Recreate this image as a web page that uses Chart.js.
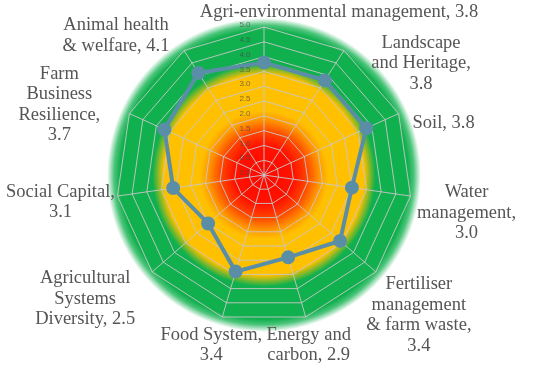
<!DOCTYPE html>
<html>
<head>
<meta charset="utf-8">
<script src="https://cdn.jsdelivr.net/npm/chart.js@4.4.1/dist/chart.umd.min.js"></script>
<style>
  body { margin:0; background:#fff; }
  #wrap { width:547px; height:377px; position:relative; }
</style>
</head>
<body>
<div id="wrap"><canvas id="radar"></canvas></div>
<script>
// categories, "\n" marks where the label wraps; a trailing "\n" puts the score on its own line
const categories = [
  'Agri-environmental management,',
  'Landscape\nand Heritage,\n',
  'Soil,',
  'Water\nmanagement,\n',
  'Fertiliser\nmanagement\n& farm waste,\n',
  'Energy and\ncarbon,',
  'Food System,\n',
  'Agricultural\nSystems\nDiversity,',
  'Social Capital,\n',
  'Farm\nBusiness\nResilience,\n',
  'Animal health\n& welfare,'
];
const scores = [3.8, 3.8, 3.8, 3.0, 3.4, 2.9, 3.4, 2.5, 3.1, 3.7, 4.1];
const scaleMin = 0, scaleMax = 5, scaleStep = 0.5;

// where each label block sits, relative to its outer spoke end (px)
const labelNudge = [[75,-15],[77,13],[45,10],[56,17],[43,43],[3,28],[-11,28],[-67,27],[-57,6],[-70,-9],[-68,-15]];

function labelLines(i){
  const c = categories[i];
  const txt = c.endsWith('\n') ? c + scores[i].toFixed(1) : c + ' ' + scores[i].toFixed(1);
  return txt.split('\n');
}

const zoneBackground = {
  id:'zoneBackground',
  beforeDraw(chart){
    const ctx = chart.ctx, s = chart.scales.r;
    const cx = s.xCenter, cy = s.yCenter, R = s.drawingArea * 1.06;
    ctx.save();
    ctx.fillStyle = '#fff';
    ctx.fillRect(0,0,chart.width,chart.height);
    const g = ctx.createRadialGradient(cx,cy,0,cx,cy,R);
    g.addColorStop(0.00,'#ff0800');
    g.addColorStop(0.19,'#ff1200');
    g.addColorStop(0.27,'#ff4200');
    g.addColorStop(0.35,'#ff9400');
    g.addColorStop(0.41,'#ffc000');
    g.addColorStop(0.64,'#ffc000');
    g.addColorStop(0.71,'#10b04e');
    g.addColorStop(0.92,'#10b04e');
    g.addColorStop(0.955,'rgba(16,176,78,0.75)');
    g.addColorStop(1.00,'rgba(16,176,78,0)');
    ctx.fillStyle = g;
    ctx.beginPath();
    ctx.arc(cx,cy,R,0,Math.PI*2);
    ctx.fill();
    ctx.restore();
  }
};

const textLayer = {
  id:'textLayer',
  afterDatasetsDraw(chart){
    const ctx = chart.ctx, s = chart.scales.r;
    ctx.save();
    // tick values up the vertical spoke
    ctx.font = '8px "Liberation Sans"';
    ctx.fillStyle = 'rgba(70,70,70,0.7)';
    ctx.textAlign = 'center';
    ctx.textBaseline = 'middle';
    s.ticks.forEach(t => {
      const d = s.getDistanceFromCenterForValue(t.value);
      ctx.fillText(t.value.toFixed(1), s.xCenter - 19, s.yCenter - d - 2);
    });
    // category labels
    ctx.font = '18.5px "Liberation Serif"';
    ctx.fillStyle = '#555555';
    const lh = 20.5;
    categories.forEach((c,i) => {
      const p = s.getPointPosition(i, s.drawingArea);
      const lines = labelLines(i);
      const x = p.x + labelNudge[i][0];
      const y0 = p.y + labelNudge[i][1] - (lines.length-1)*lh/2;
      lines.forEach((ln,k) => ctx.fillText(ln, x, y0 + k*lh));
    });
    ctx.restore();
  }
};

new Chart(document.getElementById('radar'), {
  type:'radar',
  data:{
    labels: categories.map(c => c.replace(/\n/g,' ').trim()),
    datasets:[{
      data: scores,
      borderColor:'#5a8ea7',
      backgroundColor:'rgba(0,0,0,0)',
      borderWidth:4,
      pointBackgroundColor:'#5a8ea7',
      pointBorderColor:'#5a8ea7',
      pointRadius:5,
      fill:false
    }]
  },
  options:{
    responsive:true,
    maintainAspectRatio:false,
    animation:false,
    layout:{ padding:{ left:104, right:123, top:27, bottom:54 } },
    plugins:{ legend:{display:false}, tooltip:{enabled:false} },
    scales:{
      r:{
        min:scaleMin, max:scaleMax,
        ticks:{ stepSize:scaleStep, display:false },
        grid:{ color:'rgba(200,200,200,0.9)', lineWidth:1 },
        angleLines:{ color:'rgba(200,200,200,0.9)', lineWidth:1 },
        pointLabels:{ display:false }
      }
    }
  },
  plugins:[zoneBackground, textLayer]
});
</script>
</body>
</html>
